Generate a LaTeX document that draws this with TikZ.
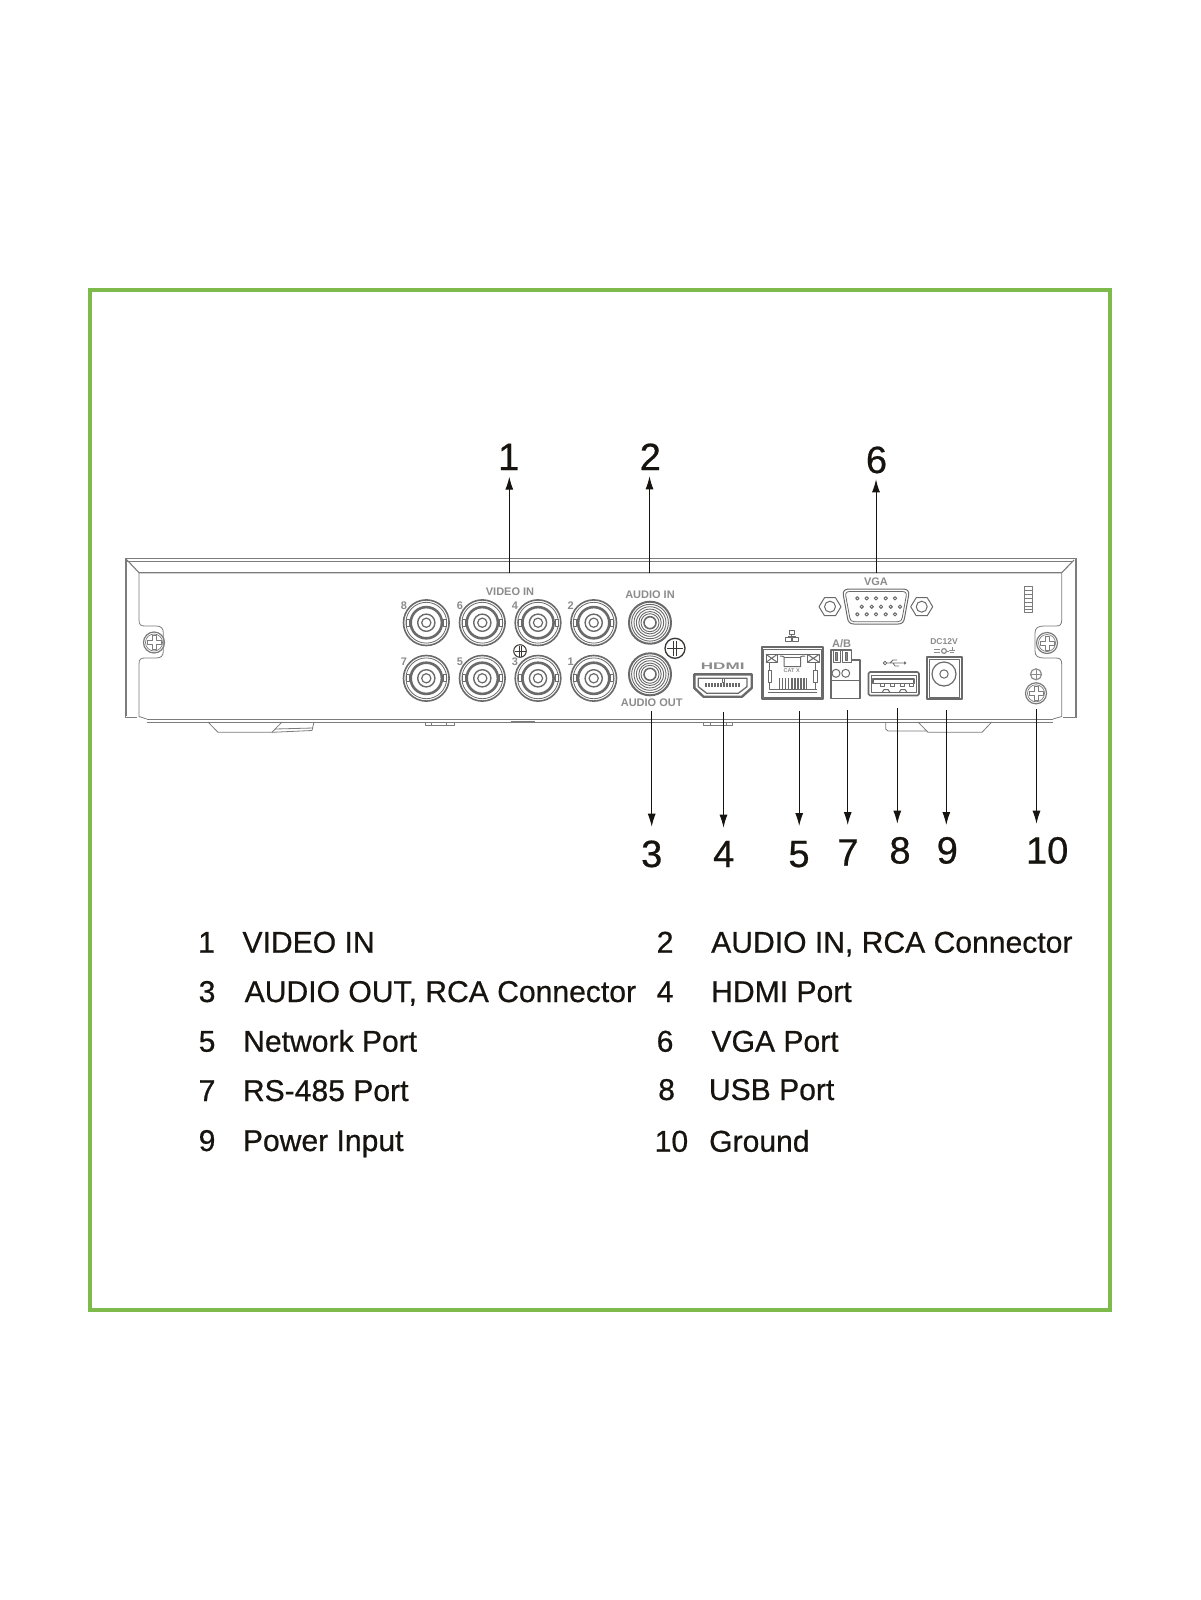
\documentclass[tikz,border=0pt]{standalone}
\usepackage{fontspec}
\setmainfont{Liberation Sans}
\newfontfamily\inkfont[FakeBold=0.6]{Liberation Sans}
\usetikzlibrary{arrows.meta}
\definecolor{framegreen}{HTML}{7FBA4C}
\definecolor{ink}{HTML}{17130F}
\definecolor{chassis}{HTML}{7C7C7C}
\definecolor{portline}{HTML}{6A6A6A}
\definecolor{silk}{HTML}{8C8C8C}
\tikzset{
  chassisline/.style={draw=chassis,line width=0.8pt,line join=round},
  portthin/.style={draw=portline,line width=1pt,line join=round},
  portthick/.style={draw=portline,line width=2pt,line join=round},
  callout/.style={draw=ink,line width=1pt,-{Latex[length=13pt,width=8pt]}},
  bignum/.style={text=ink,inner sep=0pt,anchor=base,font=\inkfont\fontsize{38}{38}\selectfont},
  listtext/.style={text=ink,inner sep=0pt,anchor=base west,font=\inkfont\fontsize{30.1}{30}\selectfont},
  silklabel/.style={text=silk,inner sep=0pt,font=\fontsize{11}{11}\selectfont\bfseries},
  tinylabel/.style={text=silk,inner sep=0pt,font=\fontsize{11}{11}\selectfont\bfseries},
}
\newcommand{\bncport}[2]{%
  \draw[draw=portline,line width=1.6pt] (#1,#2) circle[radius=22.8pt];
  \draw[draw=portline,line width=0.8pt] (#1,#2) circle[radius=20.4pt];
  \draw[draw=portline,line width=2.6pt] (#1,#2) circle[radius=15.6pt];
  \draw[portthin,fill=white] (#1-20,#2-3.5) rectangle (#1-17,#2+3.5);
  \draw[portthin,fill=white] (#1+17,#2-3.5) rectangle (#1+20,#2+3.5);
  \draw[draw=portline,line width=1.4pt] (#1,#2) circle[radius=8.6pt];
  \draw[draw=portline,line width=1.2pt] (#1,#2) circle[radius=4.6pt];
}
\newcommand{\rcaport}[2]{%
  \draw[draw=portline,line width=2pt] (#1,#2) circle[radius=21pt];
  \foreach \rr in {18.4,16,13.6,11.2,9}{\draw[draw=portline,line width=0.9pt] (#1,#2) circle[radius=\rr pt];}
  \draw[draw=portline,line width=1.6pt,fill=white] (#1,#2) circle[radius=6pt];
}
\newcommand{\screwhead}[3]{%
  \draw[draw=chassis,line width=1.2pt] (#1,#2) circle[radius=#3 pt];
  \draw[draw=chassis,line width=0.7pt] (#1,#2) circle[radius=#3 pt-2pt];
  \draw[draw=chassis,line width=0.8pt,line join=round]
    (#1-2,#2-7) -- (#1+2,#2-7) -- (#1+2,#2-2) -- (#1+7,#2-2) -- (#1+7,#2+2) -- (#1+2,#2+2)
    -- (#1+2,#2+7) -- (#1-2,#2+7) -- (#1-2,#2+2) -- (#1-7,#2+2) -- (#1-7,#2-2) -- (#1-2,#2-2) -- cycle;
}
\newcommand{\hexnut}[2]{%
  \draw[portthin] (#1-11,#2) -- (#1-5.5,#2-9) -- (#1+5.5,#2-9) -- (#1+11,#2) -- (#1+5.5,#2+9) -- (#1-5.5,#2+9) -- cycle;
  \draw[portthin] (#1,#2) circle[radius=5.5pt];
}
\begin{document}
\begin{tikzpicture}[x=1pt,y=-1pt]
\useasboundingbox (0,0) rectangle (1200,1600);
\fill[white] (0,0) rectangle (1200,1600);
% frame
\draw[draw=framegreen,line width=4.5pt,miter limit=10] (90,290) rectangle (1110,1310);
% chassis outline
\draw[chassisline] (125,558.3) -- (1075,558.3);
\draw[chassisline] (127,561.7) -- (1073,561.7);
\draw[chassisline] (125,558.3) -- (125,717.5) -- (137,717.5);
\draw[chassisline] (126.5,558.3) -- (126.5,716);
\draw[chassisline] (1075,558.3) -- (1075,717.5) -- (1063,717.5);
\draw[chassisline] (1076.3,558.3) -- (1076.3,717.5);
\draw[chassisline,line width=1.1pt] (127,560) -- (139,572.7) -- (1061.7,572.7) -- (1074,560);
\draw[chassisline] (139,572.7) -- (139,620) .. controls (139,625) and (141,626) .. (145,626)
  -- (156,626) .. controls (161,626) and (163.3,628) .. (163.3,633) -- (163.3,651)
  .. controls (163.3,656) and (161,658) .. (156,658) -- (145,658)
  .. controls (141,658) and (139,659) .. (139,664) -- (139,716.5) -- (146.7,719);
\draw[chassisline] (1061.7,572.7) -- (1061.7,620) .. controls (1061.7,625) and (1059.7,626) .. (1055.7,626)
  -- (1044,626) .. controls (1038,626) and (1035,628) .. (1035,633) -- (1035,651)
  .. controls (1035,656) and (1038,658) .. (1044,658) -- (1055.7,658)
  .. controls (1059.7,658) and (1061.7,659) .. (1061.7,664) -- (1061.7,716.5) -- (1053,719);
\draw[chassisline,line width=1pt] (146.7,719) -- (1053,719);
\draw[chassisline] (146.7,722) -- (1053,722);
% feet
\draw[chassisline] (208,722) -- (218,732.3) -- (272,732.3) -- (282,722);
\draw[chassisline] (272,732.3) -- (312,730.5) -- (314,722);
\draw[chassisline] (275,729) -- (313,728);
\draw[chassisline] (425,722) -- (425,725) -- (454,725) -- (454,722);
\draw[chassisline] (431.7,722) -- (431.7,725) (446.7,722) -- (446.7,725);
\draw[chassisline,line width=1.5pt] (510.7,722) -- (535,722);
\draw[chassisline] (703,722) -- (703,725) -- (732.7,725) -- (732.7,722);
\draw[chassisline] (710.7,722) -- (710.7,725) (726,722) -- (726,725);
\draw[chassisline] (885.7,722) -- (885.7,729) -- (888,731) -- (926.7,731);
\draw[chassisline] (918,722) -- (928,732.3) -- (982,732.3) -- (991.7,722);
% vent
\draw[chassisline] (1024,586) rectangle (1032,612);
\foreach \vy in {590,594,598,602,606,609}{\draw[chassisline,line width=0.7pt] (1024,\vy) -- (1032,\vy);}
% chassis screws
\screwhead{154}{642.5}{10.5}
\screwhead{1047}{643}{10.5}
\screwhead{1036}{693.3}{10.5}
% BNC connectors
\bncport{426.3}{622.7}\bncport{482.3}{622.7}\bncport{538}{622.7}\bncport{593.7}{622.7}
\bncport{426.3}{678.3}\bncport{482.3}{678.3}\bncport{538}{678.3}\bncport{593.7}{678.3}
% RCA
\rcaport{650}{622.7}
\rcaport{650}{674.3}
% ground symbols
\draw[draw=ink!85,line width=1.3pt] (675,648.3) circle[radius=10pt];
\draw[draw=ink!85,line width=1.1pt] (667,648.3) -- (683,648.3) (673.8,641) -- (673.8,656) (676.2,641) -- (676.2,656);
\draw[draw=ink!85,line width=1pt] (520,651) circle[radius=6.3pt];
\draw[draw=ink!85,line width=0.8pt] (514.5,651) -- (525.5,651) (519,645.5) -- (519,656.5) (521,645.5) -- (521,656.5);
\draw[draw=silk,line width=1.2pt] (1036,674.3) circle[radius=5.5pt];
\draw[draw=silk,line width=1pt] (1031,674.3) -- (1041,674.3) (1036,670) -- (1036,679);
% VGA
\hexnut{830}{606.7}
\hexnut{921.7}{606.7}
\draw[portthin] (849,589) -- (903,589) .. controls (907,589) and (909.3,591) .. (908.7,595) -- (904.5,618)
  .. controls (904,622) and (902,624) .. (898,624) -- (854,624)
  .. controls (850,624) and (848,622) .. (847.5,618) -- (843.3,595)
  .. controls (842.7,591) and (845,589) .. (849,589) -- cycle;
\draw[draw=portline,line width=0.8pt,line join=round] (850,591.5) -- (902,591.5) .. controls (905.5,591.5) and (906.7,593) .. (906.2,596) -- (902.3,617.5)
  .. controls (902,620.5) and (900.5,621.7) .. (897.5,621.7) -- (854.5,621.7)
  .. controls (851.5,621.7) and (850,620.5) .. (849.7,617.5) -- (845.8,596)
  .. controls (845.3,593) and (846.5,591.5) .. (850,591.5) -- cycle;
\foreach \px in {857.3,866.7,876,885.7,895}{
  \draw[portthin] (\px,598.3) circle[radius=1.7pt];
  \draw[portthin] (\px,614.3) circle[radius=1.7pt];}
\foreach \px in {861.7,871.7,881,890.7,900}{
  \draw[portthin] (\px,606.7) circle[radius=1.7pt];}
% HDMI
\draw[portthick,line width=2.4pt] (694.3,674.3) -- (751.7,674.3) -- (751.7,688) -- (742,696.7) -- (703.5,696.7) -- (694.3,688) -- cycle;
\draw[portthin,line width=1.3pt] (698.3,678.3) -- (747,678.3) -- (747,686.7) -- (738.3,693.3) -- (706.7,693.3) -- (698.3,686.7) -- cycle;
\draw[draw=portline,line width=3.5pt,dash pattern=on 2pt off 1pt] (705,685) -- (740,685);
\draw[portthin] (722,678.3) rectangle (724,682);
% RJ45
\draw[portthick] (761.5,647) rectangle (822.5,699);
\draw[portthin] (763,649) rectangle (821,697.5);
\draw[portthin] (766,654.3) rectangle (777.3,662.3);
\draw[portthin] (766,654.3) -- (777.3,662.3) (766,662.3) -- (777.3,654.3);
\draw[portthin] (807.3,654.3) rectangle (819.3,662.3);
\draw[portthin] (807.3,654.3) -- (819.3,662.3) (807.3,662.3) -- (819.3,654.3);
\draw[portthin] (777.3,654.5) -- (807.3,654.5);
\draw[portthin] (780,656) -- (782,656) -- (784,657) -- (784,666.5) -- (800.5,666.5) -- (800.5,657) -- (802.5,656) -- (805,656);
\draw[portthin] (784,657) -- (800.5,657);
\draw[portthin] (768,670) rectangle (771.7,682.3);
\draw[portthin] (813.5,670) rectangle (817.5,682.3);
\draw[portthin] (769.8,662.3) -- (769.8,670) (815.5,662.3) -- (815.5,670);
\draw[portthin] (769.8,682.3) -- (769.8,689) -- (817,689) (815.5,682.3) -- (815.5,689);
\draw[portthin] (768,692.5) -- (817,692.5);
\draw[draw=portline,line width=11pt,dash pattern=on 1.6pt off 1.5pt] (778.5,683.7) -- (806.5,683.7);
\draw[portthin] (789,630.3) rectangle (794.5,634.7);
\draw[portthin] (785.5,637) rectangle (791,641.7);
\draw[portthin] (792.5,637) rectangle (798,641.7);
\draw[portthin,line width=0.8pt] (791.7,634.7) -- (791.7,636) (788,636) -- (795,636) (788,636) -- (788,637) (795,636) -- (795,637);
% RS-485 terminal
\draw[portthick,line width=1.5pt] (831,650) -- (851.7,650) -- (851.7,660) -- (860,660) -- (860,698.3) -- (831,698.3) -- cycle;
\draw[portthin] (833,650) rectangle (840,662);
\draw[portthin] (842.5,650) rectangle (851,662);
\draw[portthin,fill=silk] (835.5,652.5) rectangle (837.5,660);
\draw[portthin,fill=silk] (845.5,652.5) rectangle (847.5,660);
\draw[portthin] (836,673.3) circle[radius=4pt];
\draw[portthin] (845.7,673.3) circle[radius=4pt];
\draw[portthin] (831,680) -- (860,680);
% USB
\draw[portthick,line width=1.6pt,rounded corners=1.5pt] (868.5,672) rectangle (919,695.5);
\draw[portthin] (871,675) rectangle (916.5,692.5);
\draw[portthin,line width=1.4pt] (873,679) -- (914,679) -- (914,683.5) -- (873,683.5) -- cycle;
\foreach \ux in {880,890,900,909}{\draw[portthin] (\ux,683.5) -- (\ux,686) -- (\ux+4,686) -- (\ux+4,683.5);}
\draw[portthin] (882,692.5) -- (884,689.5) -- (888,689.5) -- (890,692.5);
\draw[portthin] (899,692.5) -- (901,689.5) -- (905,689.5) -- (907,692.5);
\draw[portthin,line width=0.8pt] (885,663) circle[radius=1.8pt];
\draw[portthin,line width=0.8pt] (886.8,663) -- (904,663) (890,663) -- (893,660) -- (897,660) (893,663) -- (895,666) -- (899,666);
\fill[portline] (904,661.3) -- (906.5,663) -- (904,664.7) -- cycle;
% DC jack
\draw[portthick,line width=1.6pt] (927,657) rectangle (961.7,699);
\draw[portthin,line width=0.8pt] (929.5,659) -- (959.3,659) -- (959.3,697) -- (929.5,697) -- cycle;
\draw[portthin,line width=1.2pt] (944,674) circle[radius=12pt];
\draw[portthin] (944,674) circle[radius=4.2pt];
\draw[draw=silk,line width=1pt] (934,649.5) -- (940,649.5) (934,652.5) -- (940,652.5);
\draw[draw=silk,line width=1.2pt] (944,651) circle[radius=2.4pt];
\draw[draw=silk,line width=0.9pt] (947,651) -- (949,651) (952,646.5) -- (952,650) (949,650) -- (955,650) (950,652) -- (954,652);
% silk labels
\node[silklabel] (lvideo) at (510,592) {VIDEO IN};
\node[silklabel] (laudioin) at (650,595) {AUDIO IN};
\node[silklabel] (laudioout) at (651.7,702.7) {AUDIO OUT};
\node[silklabel] (lvga) at (876,581.7) {VGA};
\node[silklabel] (lab) at (841.7,643.3) {A/B};
\node[silklabel,font=\fontsize{8.5}{8.5}\selectfont\bfseries] (ldc) at (944,641.7) {DC12V};
\node[silklabel,font=\fontsize{9.5}{9.5}\selectfont\bfseries] (lhdmi) at (722.7,666.7) {\scalebox{1.8}[1]{HDMI}};
\node[text=silk,inner sep=0pt,font=\fontsize{5.5}{5.5}\selectfont\bfseries] (lcat) at (791.7,670.5) {CAT X};
\node[tinylabel] (b8) at (404,605.7) {8};
\node[tinylabel] (b6) at (460,605.7) {6};
\node[tinylabel] (b4) at (515,605.7) {4};
\node[tinylabel] (b2) at (570.7,605.7) {2};
\node[tinylabel] (b7) at (404,661.7) {7};
\node[tinylabel] (b5) at (460,661.7) {5};
\node[tinylabel] (b3) at (515,661.7) {3};
\node[tinylabel] (b1) at (570.7,661.7) {1};
% callout numbers
\node[bignum] (n1) at (508.7,470) {1};
\node[bignum] (n2) at (650.3,470) {2};
\node[bignum] (n6) at (876.5,473) {6};
\node[bignum] (n3) at (651.7,867) {3};
\node[bignum] (n4) at (723.7,867) {4};
\node[bignum] (n5) at (799,867) {5};
\node[bignum] (n7) at (848,865.5) {7};
\node[bignum] (n8) at (900,863.5) {8};
\node[bignum] (n9) at (947.3,863.5) {9};
\node[bignum] (n10) at (1047.2,863.5) {10};
% callout anchors
\coordinate (s1) at (509.3,572.7); \coordinate (t1) at (509.3,476.7);
\coordinate (s2) at (649.5,572.7); \coordinate (t2) at (649.5,476.3);
\coordinate (s6) at (876,572.7);   \coordinate (t6) at (876,479.3);
\coordinate (s3) at (651.7,711);   \coordinate (t3) at (651.7,826.7);
\coordinate (s4) at (723.5,712);   \coordinate (t4) at (723.5,827.7);
\coordinate (s5) at (799.2,711);   \coordinate (t5) at (799.2,826);
\coordinate (s7) at (847.7,710);   \coordinate (t7) at (847.7,825);
\coordinate (s8) at (897.3,708);   \coordinate (t8) at (897.3,823.7);
\coordinate (s9) at (946.3,710);   \coordinate (t9) at (946.3,825);
\coordinate (s10) at (1036.5,709); \coordinate (t10) at (1036.5,823.7);
\foreach \k in {1,2,3,4,5,6,7,8,9,10}{\draw[callout] (s\k) -- (t\k);}
% list
\node[listtext] (a1) at (198,952.7) {1};
\node[listtext] (b1t) at (242.3,952.7) {VIDEO IN};
\node[listtext] (a3) at (198.5,1002) {3};
\node[listtext] (b3t) at (244.5,1002) {AUDIO OUT, RCA Connector};
\node[listtext] (a5) at (198.5,1051.7) {5};
\node[listtext] (b5t) at (243,1051.7) {Network Port};
\node[listtext] (a7) at (198.5,1101) {7};
\node[listtext] (b7t) at (242.7,1101) {RS-485 Port};
\node[listtext] (a9) at (198.5,1151) {9};
\node[listtext] (b9t) at (242.7,1151) {Power Input};
\node[listtext] (a2) at (656.5,952.7) {2};
\node[listtext] (b2t) at (711,952.7) {AUDIO IN, RCA Connector};
\node[listtext] (a4) at (656.5,1002) {4};
\node[listtext] (b4t) at (711,1002) {HDMI Port};
\node[listtext] (a6) at (656.5,1051.7) {6};
\node[listtext] (b6t) at (711.3,1051.7) {VGA Port};
\node[listtext] (a8) at (658,1100) {8};
\node[listtext] (b8t) at (708.7,1100) {USB Port};
\node[listtext] (a10) at (654.5,1151.7) {10};
\node[listtext] (b10t) at (709,1151.7) {Ground};
\end{tikzpicture}
\end{document}
